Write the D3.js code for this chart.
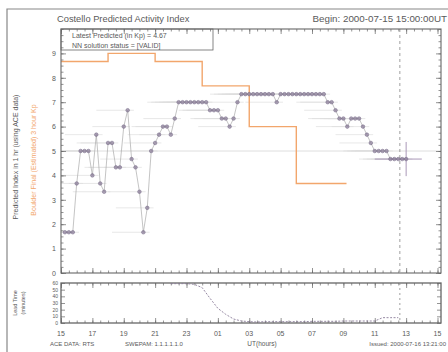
<!DOCTYPE html>
<html><head><meta charset="utf-8">
<script src="https://cdn.jsdelivr.net/npm/d3@7"></script>
<style>
body{margin:0;background:#fff}
svg{display:block}
text{font-family:"Liberation Sans",Arial,sans-serif}
</style>
</head><body>
<svg id="c" width="448" height="352"></svg>
<script>
// ---------- data ----------
const xTickLabels = ["15","17","19","21","23","01","03","05","07","09","11","13","15"];
const xTickHours  = [0,2,4,6,8,10,12,14,16,18,20,22,24];
const kpTicks     = [0,1,2,3,4,5,6,7,8,9];
const leadTicks   = [0,10,20,30,40,50,60];

const predHours = [0.25,0.5,0.75,1,1.25,1.5,1.75,2,2.25,2.5,2.75,3,3.25,3.5,3.75,4,4.25,4.5,4.75,5,
  5.25,5.5,5.75,6,6.25,6.5,6.75,7,7.25,7.5,7.75,8,8.25,8.5,8.75,9,9.25,9.5,9.75,10,
  10.25,10.5,10.75,11,11.25,11.5,11.75,12,12.25,12.5,12.75,13,13.25,13.5,13.75,14,14.25,14.5,14.75,15,
  15.25,15.5,15.75,16,16.25,16.5,16.75,17,17.25,17.5,17.75,18,18.25,18.5,18.75,19,19.25,19.5,19.75,20,
  20.25,20.5,20.75,21,21.25,21.5,21.75,22];
const predKp = [1.67,1.67,1.67,3.67,5,5,5,4,5.67,3.67,3.33,5.33,5.33,4.33,4.33,6,6.67,4.67,4.33,3.33,
  1.67,2.67,5,5.33,5.67,6,6,5.67,6.33,7,7,7,7,7,7,7,7,6.67,6.67,6.67,
  6.33,6.33,6,6.33,7,7.33,7.33,7.33,7.33,7.33,7.33,7.33,7.33,7.33,7,7.33,7.33,7.33,7.33,7.33,
  7.33,7.33,7.33,7.33,7.33,7.33,7.33,7,7,6.67,6.33,6.33,6,6.33,6.33,6.33,6,5.67,5.33,5,
  5,5,5,4.67,4.67,4.67,4.67,4.67];
const lastErr = 0.7;

const boulderStart = [0,3,6,9,12,15];
const boulderKp    = [8.67,9,8.67,7.67,6,3.67];
const boulderEnd   = 18.2;

const leadHours = [7,7.5,8,8.5,9,9.5,10,10.5,11,11.5,12,12.5,13,13.5,14,14.5,15,15.5,16,16.5,17,17.5,18,18.5,19,19.5,20,20.5,21,21.5];
const leadMin   = [59,59,59,58,53,37,22,13,6,3,2,1.5,2,2,2,2,2,2,2.5,2.5,2.5,2.5,3,3,3,3,3,8,8,8];

const nowHour = 21.6;

// ---------- drawing ----------
const svg = d3.select("#c");
const L = 61, R = 441, T = 29, B = 273, LT = 283, LB = 323;
const x = d3.scaleLinear().domain([0,24]).range([L, 437.5]);
const y = d3.scaleLinear().domain([0,10]).range([B, T]);
const yl = d3.scaleLinear().domain([0,60]).range([LB, LT]);
const ink = "#5a5a5a", orange = "#f2a66c", ptCol = "#8a7c98";

// outer frame
svg.append("path").attr("d","M7,352 V9 H448").attr("fill","none").attr("stroke","#888").attr("stroke-width",1.2);

// title
svg.append("text").attr("x",57).attr("y",22).attr("font-size",9.3).attr("fill",ink)
  .text("Costello Predicted Activity Index");
svg.append("text").attr("x",447).attr("y",22).attr("text-anchor","end").attr("font-size",9.8).attr("fill",ink)
  .text("Begin: 2000-07-15 15:00:00UT");

svg.append("clipPath").attr("id","cp").append("rect")
  .attr("x",L).attr("y",T).attr("width",R-L).attr("height",B-T);
const g = svg.append("g").attr("clip-path","url(#cp)");

// storm threshold line
g.append("line").attr("x1",L).attr("x2",R).attr("y1",y(5)).attr("y2",y(5))
  .attr("stroke","#d6d6d6").attr("stroke-width",0.8);

// whiskers
g.selectAll("line.wh").data(predHours).join("line").attr("class","wh")
  .attr("x1",h=>x(Math.max(0,h-2))).attr("x2",h=>x(h+0.4))
  .attr("y1",(h,i)=>y(predKp[i])).attr("y2",(h,i)=>y(predKp[i]))
  .attr("stroke","#dedede").attr("stroke-width",0.7);

// boulder step line
const bData = boulderStart.map((s,i)=>[s,boulderKp[i]]).concat([[boulderEnd,boulderKp[boulderKp.length-1]]]);
g.append("path").datum(bData)
  .attr("d", d3.line().x(d=>x(d[0])).y(d=>y(d[1])).curve(d3.curveStepAfter))
  .attr("fill","none").attr("stroke",orange).attr("stroke-width",1.4);

// connecting line
g.append("path").datum(predHours.map((h,i)=>[h,predKp[i]]))
  .attr("d", d3.line().x(d=>x(d[0])).y(d=>y(d[1])))
  .attr("fill","none").attr("stroke","#aaa").attr("stroke-width",0.7);

// last point error bars
const lh = predHours[predHours.length-1], lk = predKp[predKp.length-1];
g.append("line").attr("x1",x(lh)).attr("x2",x(lh)).attr("y1",y(lk-lastErr)).attr("y2",y(lk+lastErr))
  .attr("stroke","#a08cb0").attr("stroke-width",0.9);
g.append("line").attr("x1",x(lh-2)).attr("x2",x(lh+1)).attr("y1",y(lk)).attr("y2",y(lk))
  .attr("stroke","#a08cb0").attr("stroke-width",0.9);

// points
g.selectAll("circle.p").data(predHours).join("circle").attr("class","p")
  .attr("cx",h=>x(h)).attr("cy",(h,i)=>y(predKp[i])).attr("r",1.8)
  .attr("fill",ptCol).attr("fill-opacity",0.7).attr("stroke","#6f6280").attr("stroke-width",0.5);

// now line (main)
svg.append("line").attr("x1",x(nowHour)).attr("x2",x(nowHour)).attr("y1",T).attr("y2",B)
  .attr("stroke","#888").attr("stroke-width",0.8).attr("stroke-dasharray","3,3");

// legend box
svg.append("rect").attr("x",L).attr("y",T).attr("width",152).attr("height",21)
  .attr("fill","#fff").attr("stroke","#666").attr("stroke-width",0.8);
svg.append("text").attr("x",72).attr("y",38).attr("font-size",7).attr("fill",ink)
  .text("Latest Predicted (in Kp) =  4.67");
svg.append("text").attr("x",72).attr("y",47.5).attr("font-size",7).attr("fill",ink)
  .text("NN solution status  =  [VALID]");

// main frame
svg.append("rect").attr("x",L).attr("y",T).attr("width",R-L).attr("height",B-T)
  .attr("fill","none").attr("stroke","#666").attr("stroke-width",1.1);

// axes main
function styleAxis(sel){ sel.select(".domain").remove(); sel.selectAll("line").attr("stroke","#666").attr("stroke-width",0.7); sel.selectAll("text").attr("fill",ink).attr("font-size",7); }
svg.append("g").attr("transform",`translate(${L},0)`)
  .call(d3.axisLeft(y).tickValues(kpTicks).tickSize(-5).tickPadding(5).tickFormat(d3.format("d"))).call(styleAxis);
svg.append("g").attr("transform",`translate(${L},0)`)
  .call(d3.axisLeft(y).tickValues(d3.range(0,10.01,0.25)).tickSize(-2.5).tickFormat("")).call(styleAxis);
svg.append("g").attr("transform",`translate(${R},0)`)
  .call(d3.axisRight(y).tickValues(kpTicks).tickSize(-5).tickFormat("")).call(styleAxis);
svg.append("g").attr("transform",`translate(${R},0)`)
  .call(d3.axisRight(y).tickValues(d3.range(0,10.01,0.25)).tickSize(-2.5).tickFormat("")).call(styleAxis);
[[B,d3.axisBottom],[T,d3.axisTop],[LB,d3.axisBottom],[LT,d3.axisTop]].forEach(([yy,ax])=>{
  svg.append("g").attr("transform",`translate(0,${yy})`)
    .call(ax(x).tickValues(xTickHours).tickSize(-5).tickFormat("")).call(styleAxis);
  svg.append("g").attr("transform",`translate(0,${yy})`)
    .call(ax(x).tickValues(d3.range(0,24.01,0.5)).tickSize(-2.5).tickFormat("")).call(styleAxis);
});

// y titles
svg.append("text").attr("transform","translate(18,157) rotate(-90)").attr("text-anchor","middle")
  .attr("font-size",7).attr("fill",ink).text("Predicted Index in 1 hr (using ACE data)");
svg.append("text").attr("transform","translate(36,160) rotate(-90)").attr("text-anchor","middle")
  .attr("font-size",7).attr("fill",orange).text("Boulder Final (Estimated) 3 hour Kp");

// lower panel
svg.append("rect").attr("x",L).attr("y",LT).attr("width",R-L).attr("height",LB-LT)
  .attr("fill","none").attr("stroke","#666").attr("stroke-width",1.3);
svg.append("g").attr("transform",`translate(${L},0)`)
  .call(d3.axisLeft(yl).tickValues(leadTicks).tickSize(-4).tickPadding(3)).call(styleAxis)
  .selectAll("text").attr("font-size",5);
svg.append("g").attr("transform",`translate(${R},0)`)
  .call(d3.axisRight(yl).tickValues(leadTicks).tickSize(-4).tickFormat("")).call(styleAxis);
svg.append("path").datum(leadHours.map((h,i)=>[h,leadMin[i]]))
  .attr("d", d3.line().x(d=>x(d[0])).y(d=>yl(d[1])))
  .attr("fill","none").attr("stroke","#8a7c98").attr("stroke-width",0.9).attr("stroke-dasharray","2,1.5");
svg.append("line").attr("x1",x(nowHour)).attr("x2",x(nowHour)).attr("y1",LT).attr("y2",LB)
  .attr("stroke","#888").attr("stroke-width",0.8).attr("stroke-dasharray","2,3");
svg.append("text").attr("transform","translate(17,303) rotate(-90)").attr("text-anchor","middle")
  .attr("font-size",5.5).attr("fill",ink).text("Lead Time");
svg.append("text").attr("transform","translate(25,303) rotate(-90)").attr("text-anchor","middle")
  .attr("font-size",5.5).attr("fill",ink).text("(minutes)");

// x labels
svg.append("g").selectAll("text").data(xTickHours).join("text")
  .attr("x",h=>x(h)).attr("y",336).attr("text-anchor","middle").attr("font-size",7).attr("fill",ink)
  .text((h,i)=>xTickLabels[i]);
svg.append("text").attr("x",262).attr("y",346).attr("text-anchor","middle").attr("font-size",6.5).attr("fill",ink).text("UT(hours)");
svg.append("text").attr("x",50).attr("y",346).attr("font-size",6).attr("fill",ink).text("ACE DATA:  RTS");
svg.append("text").attr("x",125).attr("y",346).attr("font-size",6).attr("fill",ink).text("SWEPAM: 1.1.1.1.1.0");
svg.append("text").attr("x",446).attr("y",346).attr("text-anchor","end").attr("font-size",6).attr("fill",ink).text("Issued: 2000-07-16 13:21:00");
</script>
</body></html>
